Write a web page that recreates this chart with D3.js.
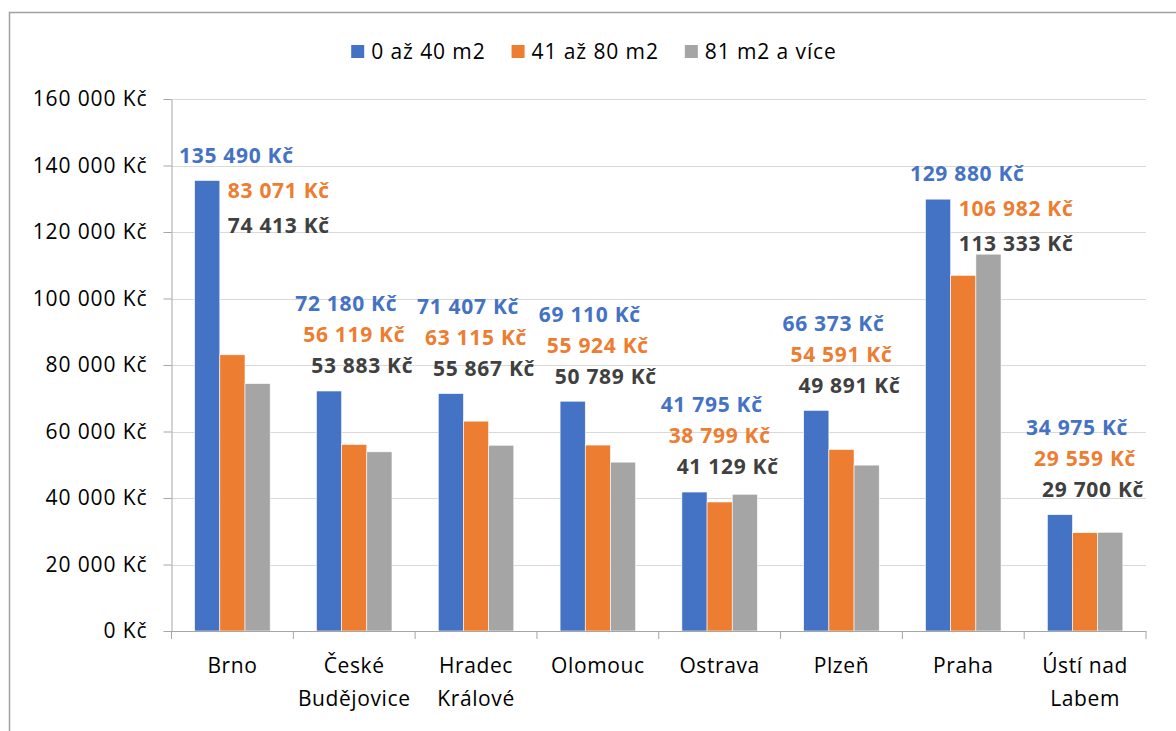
<!DOCTYPE html>
<html>
<head>
<meta charset="utf-8">
<script src="https://cdn.jsdelivr.net/npm/d3@7"></script>
<style>
  body { margin: 0; background: #fff; }
  text { font-family: "Open Sans", "Noto Sans", sans-serif; }
</style>
</head>
<body>
<div id="chart"></div>
<script>
// data
var cities = ["Brno", "České Budějovice", "Hradec Králové", "Olomouc", "Ostrava", "Plzeň", "Praha", "Ústí nad Labem"];
var series = ["0 až 40 m2", "41 až 80 m2", "81 m2 a více"];
var small = [135490, 72180, 71407, 69110, 41795, 66373, 129880, 34975];
var medium = [83071, 56119, 63115, 55924, 38799, 54591, 106982, 29559];
var large = [74413, 53883, 55867, 50789, 41129, 49891, 113333, 29700];
var yTicks = [0, 20000, 40000, 60000, 80000, 100000, 120000, 140000, 160000];

var colors = ["#4472C4", "#ED7D31", "#A5A5A5"];
var labelColors = ["#4472C4", "#ED7D31", "#404040"];

var w = 1176, h = 731;
var plot = { left: 171.5, right: 1146, top: 99, bottom: 631 };

function money(v) {
    return d3.format(",")(v).replace(/,/g, " ") + " Kč";
}

function draw() {
    var svg = d3.select("#chart").append("svg")
        .attr("width", w)
        .attr("height", h);

    svg.append("rect")
        .attr("width", w).attr("height", h)
        .attr("fill", "#fff");

    // chart area border (runs off the right and bottom edge)
    svg.append("rect")
        .attr("x", 9.5).attr("y", 12.5)
        .attr("width", 1300).attr("height", 900)
        .attr("fill", "none")
        .attr("stroke", "#a0a0a0")
        .attr("stroke-width", 1.5);

    var rows = cities.map(function(c, i) {
        return { city: c, values: [small[i], medium[i], large[i]] };
    });

    var x0 = d3.scaleBand().domain(cities).range([plot.left, plot.right]);
    var bw = x0.bandwidth();
    var x1 = d3.scaleBand().domain(d3.range(series.length))
        .range([bw * 0.19, bw * 0.81]);
    var y = d3.scaleLinear().domain([0, 160000]).range([plot.bottom, plot.top]);

    // gridlines
    svg.append("g").selectAll("line")
        .data(yTicks.slice(1))
        .enter().append("line")
        .attr("x1", plot.left).attr("x2", plot.right)
        .attr("y1", function(d) { return Math.round(y(d)) + 0.5; })
        .attr("y2", function(d) { return Math.round(y(d)) + 0.5; })
        .attr("stroke", "#d9d9d9")
        .attr("stroke-width", 1);

    // y axis
    var yAxis = svg.append("g")
        .attr("transform", "translate(" + plot.left + ",0)")
        .call(d3.axisLeft(y).tickValues(yTicks).tickFormat(money)
              .tickSize(8).tickSizeOuter(0).tickPadding(16));
    yAxis.select(".domain").attr("stroke", "#a6a6a6");
    yAxis.selectAll(".tick line").attr("stroke", "#a6a6a6");
    yAxis.selectAll(".tick text")
        .attr("font-family", "Open Sans")
        .attr("font-size", 21)
        .attr("letter-spacing", 0.9)
        .attr("fill", "#000");

    // bars
    var groups = svg.append("g").selectAll("g")
        .data(rows)
        .enter().append("g")
        .attr("transform", function(d) { return "translate(" + x0(d.city) + ",0)"; });

    groups.selectAll("rect")
        .data(function(d) { return d.values; })
        .enter().append("rect")
        .attr("x", function(d, i) { return x1(i); })
        .attr("width", x1.bandwidth())
        .attr("y", function(d) { return y(d); })
        .attr("height", function(d) { return y(0) - y(d); })
        .attr("fill", function(d, i) { return colors[i]; })
        .attr("stroke", "#fff")
        .attr("stroke-width", 0.6);

    // x axis
    var xAxis = svg.append("g")
        .attr("transform", "translate(0," + plot.bottom + ")");
    xAxis.append("line")
        .attr("x1", plot.left).attr("x2", plot.right)
        .attr("y1", 0.5).attr("y2", 0.5)
        .attr("stroke", "#a6a6a6");
    xAxis.selectAll(".sep")
        .data(d3.range(cities.length + 1))
        .enter().append("line")
        .attr("class", "sep")
        .attr("x1", function(i) { return plot.left + i * bw; })
        .attr("x2", function(i) { return plot.left + i * bw; })
        .attr("y1", 0).attr("y2", 8)
        .attr("stroke", "#a6a6a6");

    var catText = xAxis.selectAll(".cat")
        .data(cities)
        .enter().append("text")
        .attr("class", "cat")
        .attr("x", function(d) { return x0(d) + bw / 2; })
        .attr("y", 42)
        .attr("text-anchor", "middle")
        .attr("font-size", 21)
        .attr("letter-spacing", 0.6)
        .attr("fill", "#000");
    // wrap the names to the band width, like the spreadsheet does
    catText.each(function(d) {
        var t = d3.select(this);
        var words = d.split(" ");
        var lines = [], line = [];
        var probe = t.append("tspan");
        words.forEach(function(word) {
            var test = line.concat([word]).join(" ");
            probe.text(test);
            if (line.length && probe.node().getComputedTextLength() > bw - 4) {
                lines.push(line.join(" "));
                line = [word];
            } else {
                line.push(word);
            }
        });
        lines.push(line.join(" "));
        probe.remove();
        lines.forEach(function(l, k) {
            t.append("tspan")
                .attr("x", x0(d) + bw / 2)
                .attr("dy", k === 0 ? 0 : 33)
                .text(l);
        });
    });

    // data labels: stacked above the group, or beside a very tall first bar
    var gap = 31;
    rows.forEach(function(r) {
        var gx = x0(r.city);
        var cx = gx + bw / 2;
        var topAll = y(d3.max(r.values));
        var stackTop = topAll - 25 - 2 * gap;
        var pos;
        if (stackTop < plot.top + 25) {
            var by = y(r.values[0]) - 25;
            var sx = gx + x1(0) + x1.bandwidth() + 8;
            pos = [
                { x: cx + 4, y: by, anchor: "middle" },
                { x: sx, y: by + gap + 4, anchor: "start" },
                { x: sx, y: by + 2 * (gap + 4), anchor: "start" }
            ];
        } else {
            pos = [0, 1, 2].map(function(i) {
                return { x: cx + (i - 1) * 8, y: stackTop + i * gap, anchor: "middle" };
            });
        }
        svg.append("g").selectAll("text")
            .data(r.values)
            .enter().append("text")
            .attr("x", function(d, i) { return pos[i].x; })
            .attr("y", function(d, i) { return pos[i].y; })
            .attr("dy", "0.35em")
            .attr("text-anchor", function(d, i) { return pos[i].anchor; })
            .attr("font-size", 21)
            .attr("letter-spacing", 0.7)
            .attr("font-weight", "bold")
            .attr("fill", function(d, i) { return labelColors[i]; })
            .text(money);
    });

    // legend, centred on the chart area
    var legend = svg.append("g").attr("transform", "translate(0,52)");
    var items = legend.selectAll("g")
        .data(series)
        .enter().append("g");
    items.append("rect")
        .attr("y", -7).attr("width", 13).attr("height", 13)
        .attr("fill", function(d, i) { return colors[i]; });
    items.append("text")
        .attr("x", 20)
        .attr("dy", "0.35em")
        .attr("font-size", 21)
        .attr("letter-spacing", 0.9)
        .attr("fill", "#000")
        .text(function(d) { return d; });
    var offs = [], total = 0;
    items.each(function() {
        offs.push(total);
        total += this.getBBox().width + 26;
    });
    total -= 26;
    var start = 594 - total / 2;
    items.attr("transform", function(d, i) { return "translate(" + (start + offs[i]) + ",0)"; });
}

draw();
</script>
</body>
</html>
